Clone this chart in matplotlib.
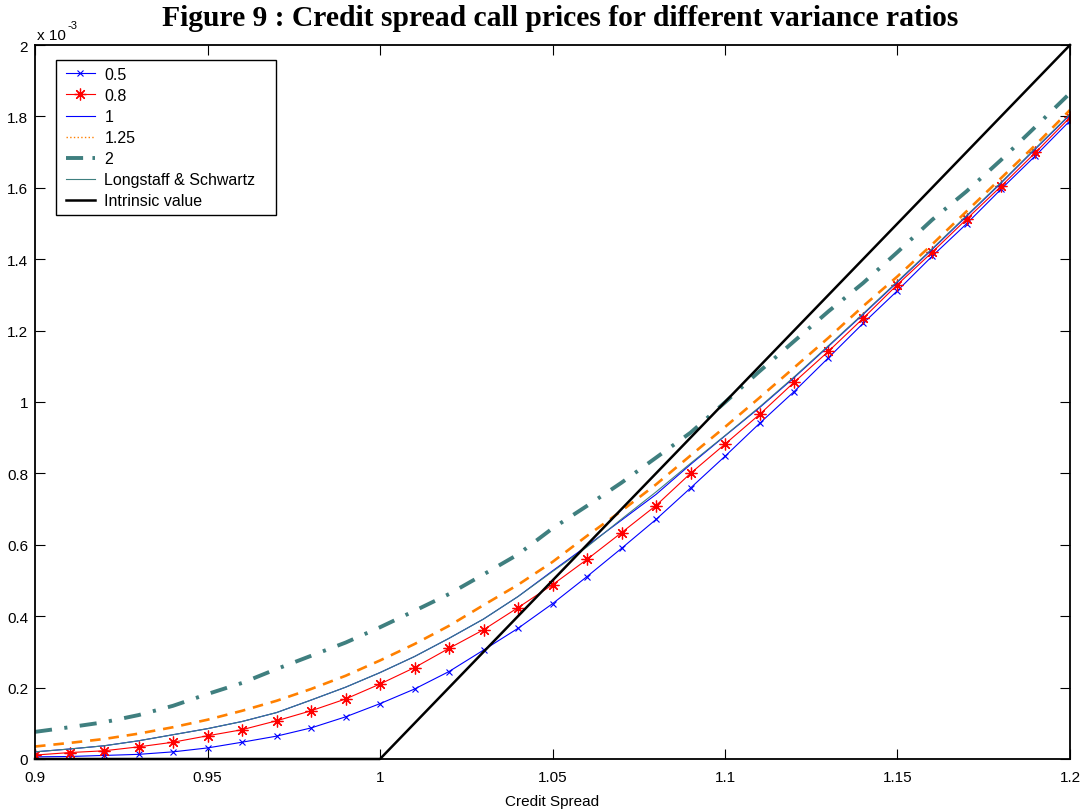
import numpy as np
import matplotlib
matplotlib.use("Agg")
import matplotlib.pyplot as plt
from matplotlib.lines import Line2D
from matplotlib.patches import Rectangle
from matplotlib.transforms import IdentityTransform

# Credit spread grid (ratio of strike spread to current spread)
credit_spread = np.round(np.arange(0.90, 1.2001, 0.01), 2)

# Call prices, in units of 1e-3, for each variance ratio
price_ratio_05 = [0.006, 0.007, 0.010, 0.013, 0.020, 0.031, 0.047, 0.064, 0.087, 0.118,
                  0.155, 0.196, 0.245, 0.305, 0.366, 0.435, 0.511, 0.590, 0.671, 0.759,
                  0.848, 0.940, 1.029, 1.124, 1.220, 1.312, 1.408, 1.499, 1.596, 1.690, 1.788]
price_ratio_08 = [0.011, 0.018, 0.023, 0.034, 0.047, 0.065, 0.082, 0.107, 0.135, 0.168,
                  0.210, 0.256, 0.310, 0.362, 0.424, 0.488, 0.559, 0.634, 0.710, 0.800,
                  0.882, 0.965, 1.055, 1.142, 1.234, 1.329, 1.419, 1.512, 1.604, 1.699, 1.797]
price_ratio_1 = [0.020, 0.028, 0.037, 0.051, 0.068, 0.085, 0.105, 0.130, 0.165, 0.201,
                 0.242, 0.287, 0.338, 0.392, 0.455, 0.527, 0.597, 0.669, 0.741, 0.825,
                 0.905, 0.984, 1.068, 1.156, 1.245, 1.336, 1.427, 1.520, 1.613, 1.709, 1.804]
price_ratio_125 = [0.035, 0.045, 0.056, 0.071, 0.089, 0.110, 0.135, 0.163, 0.196, 0.233,
                   0.276, 0.322, 0.373, 0.431, 0.488, 0.552, 0.625, 0.695, 0.769, 0.850,
                   0.930, 1.012, 1.096, 1.180, 1.268, 1.352, 1.441, 1.534, 1.627, 1.720, 1.818]
price_ratio_2 = [0.076, 0.089, 0.103, 0.123, 0.149, 0.182, 0.213, 0.252, 0.289, 0.326,
                 0.369, 0.415, 0.462, 0.517, 0.573, 0.646, 0.709, 0.774, 0.844, 0.914,
                 0.999, 1.086, 1.170, 1.254, 1.333, 1.420, 1.510, 1.590, 1.678, 1.771, 1.865]
price_longstaff = [0.020, 0.028, 0.037, 0.051, 0.068, 0.085, 0.105, 0.130, 0.165, 0.201,
                   0.242, 0.287, 0.338, 0.392, 0.455, 0.525, 0.594, 0.672, 0.748, 0.828,
                   0.906, 0.986, 1.070, 1.158, 1.247, 1.338, 1.429, 1.522, 1.615, 1.711, 1.806]
# Intrinsic value max(S - K, 0) with a 0.01 multiplier, in units of 1e-3
intrinsic_value = [max(s - 1.0, 0.0) * 10.0 for s in credit_spread]

series_labels = ["0.5", "0.8", "1", "1.25", "2", "Longstaff & Schwartz", "Intrinsic value"]
x_ticks = [0.9, 0.95, 1.0, 1.05, 1.1, 1.15, 1.2]
x_tick_labels = ["0.9", "0.95", "1", "1.05", "1.1", "1.15", "1.2"]
y_ticks = [0, 0.2, 0.4, 0.6, 0.8, 1.0, 1.2, 1.4, 1.6, 1.8, 2.0]
y_tick_labels = ["0", "0.2", "0.4", "0.6", "0.8", "1", "1.2", "1.4", "1.6", "1.8", "2"]

SANS = ["Liberation Sans", "DejaVu Sans"]
SERIF = ["Liberation Serif", "DejaVu Serif"]
TEAL = "#3f7f7f"
ORANGE = "#ff8000"

W, H = 1087, 812
fig = plt.figure(figsize=(W / 100, H / 100), dpi=100)
ax = fig.add_axes([35 / W, 1 - 760 / H, (1070 - 35) / W, (760 - 46) / H])

l05, = ax.plot(credit_spread, price_ratio_05, color="blue", lw=0.8,
               marker="x", ms=5, mew=0.8)
l08, = ax.plot(credit_spread, price_ratio_08, color="red", lw=0.8,
               marker=(8, 2, 0), ms=8.5, mew=0.9)
l1, = ax.plot(credit_spread, price_ratio_1, color="blue", lw=0.8)
l125, = ax.plot(credit_spread, price_ratio_125, color=ORANGE, lw=1.9,
                ls=(0, (4, 3)), dash_capstyle="butt")
l2, = ax.plot(credit_spread, price_ratio_2, color=TEAL, lw=2.8,
              ls=(0, (4.4, 3.2, 0.8, 3.2)), dash_capstyle="butt")
lls, = ax.plot(credit_spread, price_longstaff, color=TEAL, lw=0.8)
lint, = ax.plot(credit_spread, intrinsic_value, color="black", lw=1.8, clip_on=False)

ax.set_xlim(0.9, 1.2)
ax.set_ylim(0, 2.0)
ax.set_xticks(x_ticks)
ax.set_xticklabels(x_tick_labels, family=SANS, fontsize=11)
ax.set_yticks(y_ticks)
ax.set_yticklabels(y_tick_labels, family=SANS, fontsize=11)
ax.tick_params(direction="in", length=7, width=0.8, top=True, right=True,
               colors="black")
ax.tick_params(axis="x", pad=8)
ax.tick_params(axis="y", pad=5)
for sp in ax.spines.values():
    sp.set_linewidth(1.3)
    sp.set_color("black")

ax.set_xlabel("Credit Spread", family=SANS, fontsize=11, labelpad=7)

# Exponent marker for the y axis
ax.text(2 / 1035, 1 + 3 / 714, "x 10", transform=ax.transAxes, family=SANS,
        fontsize=11, ha="left", va="bottom")
ax.text(33 / 1035, 1 + 15 / 714, "-3", transform=ax.transAxes, family=SANS,
        fontsize=8, ha="left", va="bottom")

fig.text(560 / W, 1 - 19 / H,
         "Figure 9 : Credit spread call prices for different variance ratios",
         family=SERIF, fontweight="bold", fontsize=21.3, ha="center", va="center")

legend_handles = [
    l05, l08, l1,
    Line2D([], [], color=ORANGE, lw=1.0, ls=":"),
    Line2D([], [], color=TEAL, lw=2.8, ls=(0, (4.4, 2.4, 0.8, 3.2)),
           dash_capstyle="butt"),
    lls, lint,
]
leg = ax.legend(legend_handles, series_labels, loc="upper left",
                bbox_to_anchor=(31 / 1035, 1 - 22 / 714), borderaxespad=0,
                frameon=False, prop={"family": SANS, "size": 11.5},
                handlelength=1.8, handletextpad=0.6, labelspacing=0.38,
                borderpad=0.0)
leg.set_zorder(6)

# Legend box with the wider right margin, drawn under the legend entries
fig.canvas.draw()
bb = leg.get_window_extent()
frame = Rectangle((bb.x0 - 10, bb.y0 - 7), bb.width + 31, bb.height + 14,
                  transform=IdentityTransform(), facecolor="white",
                  edgecolor="black", linewidth=1.0, zorder=5.5, clip_on=False)
ax.add_patch(frame)

fig.savefig("out.png", dpi=100)
